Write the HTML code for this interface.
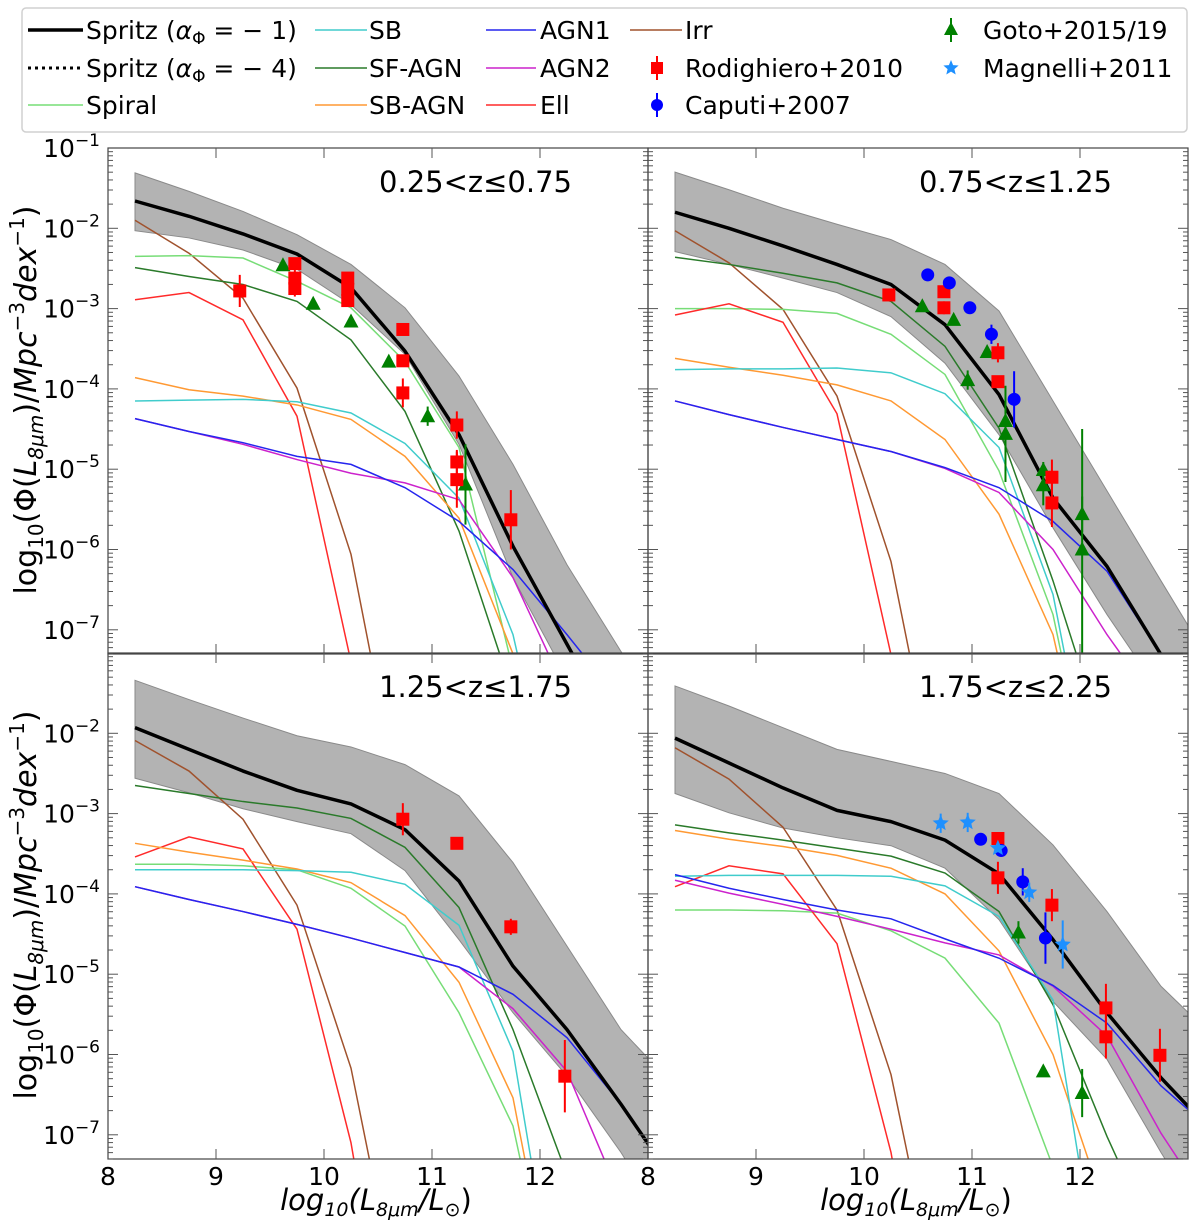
<!DOCTYPE html>
<html><head><meta charset="utf-8">
<style>
html,body{margin:0;padding:0;background:#fff;overflow:hidden;width:1200px;height:1228px;}
svg{display:block;font-family:"DejaVu Sans","Liberation Sans",sans-serif;}
</style></head>
<body>
<svg id="chart" width="1200" height="1228" viewBox="0 0 1200 1228" xmlns="http://www.w3.org/2000/svg" overflow="hidden">
  <g id="legend">
    <rect x="22" y="8" width="1165" height="124" rx="4" fill="#fff" stroke="#d0d0d0" stroke-width="1.5"/>
    <g>
      <line x1="28" y1="30" x2="83" y2="30" stroke="#000" stroke-width="3.5"/>
      <text x="86" y="39" font-size="25">Spritz (<tspan font-style="italic">α</tspan><tspan font-size="17" dy="5">Φ</tspan><tspan dy="-5"> = − 1)</tspan></text>
    </g>
    <g>
      <line x1="28" y1="68" x2="83" y2="68" stroke="#000" stroke-width="3" stroke-dasharray="3,4"/>
      <text x="86" y="77" font-size="25">Spritz (<tspan font-style="italic">α</tspan><tspan font-size="17" dy="5">Φ</tspan><tspan dy="-5"> = − 4)</tspan></text>
    </g>
    <g>
      <line x1="28" y1="105" x2="83" y2="105" stroke="#77dd77" stroke-width="1.5"/>
      <text x="86" y="114" font-size="25">Spiral</text>
    </g>
    <g>
      <line x1="315" y1="30" x2="367" y2="30" stroke="#40cccc" stroke-width="1.5"/>
      <text x="369" y="39" font-size="25">SB</text>
    </g>
    <g>
      <line x1="315" y1="68" x2="367" y2="68" stroke="#2a7a2a" stroke-width="1.5"/>
      <text x="369" y="77" font-size="25">SF-AGN</text>
    </g>
    <g>
      <line x1="315" y1="105" x2="367" y2="105" stroke="#ff9933" stroke-width="1.5"/>
      <text x="369" y="114" font-size="25">SB-AGN</text>
    </g>
    <g>
      <line x1="486" y1="30" x2="536" y2="30" stroke="#2525ee" stroke-width="1.5"/>
      <text x="540" y="39" font-size="25">AGN1</text>
    </g>
    <g>
      <line x1="486" y1="68" x2="536" y2="68" stroke="#cc22cc" stroke-width="1.5"/>
      <text x="540" y="77" font-size="25">AGN2</text>
    </g>
    <g>
      <line x1="486" y1="105" x2="536" y2="105" stroke="#ff2a2a" stroke-width="1.5"/>
      <text x="540" y="114" font-size="25">Ell</text>
    </g>
    <g>
      <line x1="630" y1="30" x2="682" y2="30" stroke="#a0522d" stroke-width="1.5"/>
      <text x="685" y="39" font-size="25">Irr</text>
    </g>
    <g>
      <line x1="657" y1="56" x2="657" y2="80" stroke="#ff0000" stroke-width="2"/>
      <rect x="651" y="62" width="12" height="12" fill="#ff0000"/>
      <text x="685" y="77" font-size="25">Rodighiero+2010</text>
    </g>
    <g>
      <line x1="657" y1="93" x2="657" y2="117" stroke="#0000ff" stroke-width="2"/>
      <circle cx="657" cy="105" r="6" fill="#0000ff"/>
      <text x="685" y="114" font-size="25">Caputi+2007</text>
    </g>
    <g>
      <line x1="951" y1="18" x2="951" y2="42" stroke="#008000" stroke-width="2"/>
      <polygon points="951,22 958,35 944,35" fill="#008000"/>
      <text x="983" y="39" font-size="25">Goto+2015/19</text>
    </g>
    <g>
      <polygon id="legstar" points="" fill="#1e90ff"/>
      <text x="983" y="77" font-size="25">Magnelli+2011</text>
    </g>
  </g>
  <g id="panels"></g>
  <g transform="translate(36,400) rotate(-90)">
    <text x="0" y="0" text-anchor="middle" font-size="30">log<tspan font-size="20" dy="7">10</tspan><tspan dy="-7">(Φ(</tspan><tspan font-style="italic">L</tspan><tspan font-size="20" dy="7" font-style="italic">8μm</tspan><tspan dy="-7">)/</tspan><tspan font-style="italic">Mpc</tspan><tspan font-size="20" dy="-12">−3</tspan><tspan dy="12" font-style="italic">dex</tspan><tspan font-size="20" dy="-12">−1</tspan><tspan dy="12">)</tspan></text>
  </g>
  <g transform="translate(36,905) rotate(-90)">
    <text x="0" y="0" text-anchor="middle" font-size="30">log<tspan font-size="20" dy="7">10</tspan><tspan dy="-7">(Φ(</tspan><tspan font-style="italic">L</tspan><tspan font-size="20" dy="7" font-style="italic">8μm</tspan><tspan dy="-7">)/</tspan><tspan font-style="italic">Mpc</tspan><tspan font-size="20" dy="-12">−3</tspan><tspan dy="12" font-style="italic">dex</tspan><tspan font-size="20" dy="-12">−1</tspan><tspan dy="12">)</tspan></text>
  </g>
  <text x="376" y="1210" text-anchor="middle" font-size="29" font-style="italic">log<tspan font-size="19" dy="6">10</tspan><tspan dy="-6">(L</tspan><tspan font-size="19" dy="6">8μm</tspan><tspan dy="-6">/L</tspan><tspan font-size="19" dy="6" font-style="normal">⊙</tspan><tspan dy="-6" font-style="normal">)</tspan></text>
  <text x="916" y="1210" text-anchor="middle" font-size="29" font-style="italic">log<tspan font-size="19" dy="6">10</tspan><tspan dy="-6">(L</tspan><tspan font-size="19" dy="6">8μm</tspan><tspan dy="-6">/L</tspan><tspan font-size="19" dy="6" font-style="normal">⊙</tspan><tspan dy="-6" font-style="normal">)</tspan></text>
</svg>
<script>
// ---- data (log10 Phi) ----
const xBins = [8.25, 8.75, 9.25, 9.75, 10.25, 10.75, 11.25, 11.75, 12.25, 12.75, 13.25];
const xTicks = [8, 9, 10, 11, 12];
const yTicks = [-1, -2, -3, -4, -5, -6, -7];
const panelTitles = ["0.25<z\u22640.75", "0.75<z\u22641.25", "1.25<z\u22641.75", "1.75<z\u22642.25"];

// panel 1: 0.25<z<=0.75
const p1Spritz = [-1.66,-1.85,-2.07,-2.32,-2.74,-3.53,-4.57,-5.96,-7.18,-8.4,-9.5];
const p1Up     = [-1.31,-1.54,-1.79,-2.08,-2.45,-2.99,-3.84,-4.94,-6.19,-7.27,-8.3];
const p1Lo     = [-2.03,-2.12,-2.27,-2.51,-2.95,-3.57,-4.69,-6.35,-7.6,-8.8,-10];
const p1Irr    = [-1.90,-2.31,-2.87,-3.99,-6.06,-9.5,-11,-11,-11,-11,-11];
const p1Spiral = [-2.35,-2.34,-2.37,-2.66,-2.99,-3.66,-4.73,-7.5,-10,-11,-11];
const p1SfAgn  = [-2.49,-2.60,-2.70,-2.91,-3.39,-4.28,-5.77,-7.8,-10,-11,-11];
const p1Ell    = [-2.89,-2.80,-3.14,-4.34,-7.4,-11,-11,-11,-11,-11,-11];
const p1SbAgn  = [-3.86,-4.01,-4.09,-4.20,-4.38,-4.84,-5.61,-7.3,-10,-11,-11];
const p1Sb     = [-4.15,-4.14,-4.13,-4.16,-4.30,-4.68,-5.36,-7.06,-10,-11,-11];
const p1Agn1   = [-4.37,-4.53,-4.67,-4.84,-4.94,-5.23,-5.65,-6.25,-7.06,-7.9,-9];
const p1Agn2   = [-4.37,-4.53,-4.69,-4.88,-5.05,-5.17,-5.38,-6.35,-7.8,-9,-10];
const p1RodX = [9.22, 9.73, 9.73, 9.73, 10.22, 10.22, 10.22, 10.73, 10.73, 10.73, 11.23, 11.23, 11.23, 11.73];
const p1RodY = [-2.78,-2.44,-2.62,-2.75,-2.62,-2.76,-2.9,-3.26,-3.65,-4.05,-4.45,-4.91,-5.13,-5.63];
const p1RodE = [0.2,0.05,0.1,0.1,0.05,0.05,0.05,0.02,0.02,0.18,0.17,0.15,0.35,0.37];
const p1GotoX = [9.62, 9.90, 10.25, 10.60, 10.96, 11.31];
const p1GotoY = [-2.46,-2.94,-3.16,-3.66,-4.34,-5.19];
const p1GotoE = [0.02,0.02,0.02,0.02,0.12,0.5];

// panel 2: 0.75<z<=1.25
const p2Spritz = [-1.80,-2.00,-2.22,-2.45,-2.70,-3.20,-4.07,-5.36,-6.21,-7.31,-8.4];
const p2Up     = [-1.30,-1.52,-1.75,-1.95,-2.14,-2.45,-3.03,-4.15,-5.27,-6.39,-7.5];
const p2Lo     = [-2.29,-2.45,-2.62,-2.80,-3.10,-3.68,-4.57,-5.73,-6.81,-7.8,-9];
const p2Irr    = [-2.03,-2.43,-3.01,-4.09,-6.15,-9.5,-11,-11,-11,-11,-11];
const p2Spiral = [-3.00,-3.00,-3.01,-3.06,-3.32,-3.82,-5.02,-6.81,-10,-11,-11];
const p2SfAgn  = [-2.36,-2.45,-2.56,-2.68,-2.91,-3.47,-4.49,-6.39,-8.5,-11,-11];
const p2Ell    = [-3.08,-2.94,-3.17,-4.31,-7.31,-11,-11,-11,-11,-11,-11];
const p2SbAgn  = [-3.62,-3.73,-3.83,-3.95,-4.15,-4.63,-5.56,-7.06,-10,-11,-11];
const p2Sb     = [-3.76,-3.75,-3.75,-3.74,-3.80,-4.06,-4.73,-6.56,-10,-11,-11];
const p2Agn1   = [-4.15,-4.32,-4.48,-4.63,-4.78,-4.98,-5.23,-5.65,-6.27,-7.31,-8.4];
const p2Agn2   = [-4.15,-4.32,-4.48,-4.63,-4.78,-4.99,-5.29,-6.00,-7.06,-8.0,-9];
const p2RodX = [10.23, 10.74, 10.74, 11.24, 11.24, 11.74, 11.74];
const p2RodY = [-2.83,-2.79,-2.99,-3.55,-3.91,-5.10,-5.42];
const p2RodE = [0.03,0.06,0.08,0.12,0.06,0.22,0.3];
const p2CapX = [10.59, 10.79, 10.98, 11.18, 11.39];
const p2CapY = [-2.58,-2.68,-2.99,-3.32,-4.13];
const p2CapE = [0.02,0.02,0.06,0.12,0.35];
const p2GotoX = [10.54, 10.83, 10.96, 11.14, 11.31, 11.31, 11.66, 11.66, 12.02, 12.02];
const p2GotoY = [-2.97,-3.14,-3.89,-3.54,-4.40,-4.56,-5.01,-5.20,-5.56,-6.0];
const p2GotoE = [0.02,0.02,0.12,0.02,0.15,0.6,0.1,0.25,0.22,1.5];

// panel 3: 1.25<z<=1.75
const p3Spritz = [-1.93,-2.20,-2.47,-2.71,-2.88,-3.20,-3.84,-4.90,-5.69,-6.62,-7.6];
const p3Up     = [-1.34,-1.58,-1.81,-2.03,-2.17,-2.39,-2.78,-3.61,-4.65,-5.69,-6.4];
const p3Lo     = [-2.56,-2.74,-2.94,-3.10,-3.25,-3.71,-4.57,-5.48,-6.27,-7.22,-8.3];
const p3Irr    = [-2.09,-2.47,-3.07,-4.14,-6.17,-9.5,-11,-11,-11,-11,-11];
const p3Spiral = [-3.63,-3.63,-3.65,-3.70,-3.93,-4.40,-5.48,-6.89,-10,-11,-11];
const p3SfAgn  = [-2.65,-2.75,-2.85,-2.93,-3.06,-3.42,-4.17,-5.69,-7.5,-10,-11];
const p3Ell    = [-3.54,-3.29,-3.44,-4.44,-7.10,-11,-11,-11,-11,-11,-11];
const p3SbAgn  = [-3.37,-3.48,-3.58,-3.69,-3.86,-4.27,-5.10,-6.54,-10,-11,-11];
const p3Sb     = [-3.70,-3.70,-3.70,-3.71,-3.73,-3.88,-4.39,-5.96,-10,-11,-11];
const p3Agn1   = [-3.91,-4.07,-4.22,-4.38,-4.55,-4.73,-4.91,-5.25,-5.79,-6.62,-7.6];
const p3Agn2   = [-3.91,-4.07,-4.22,-4.38,-4.55,-4.73,-4.91,-5.43,-6.21,-7.8,-9];
const p3RodX = [10.73, 11.23, 11.73, 12.23];
const p3RodY = [-3.07,-3.37,-4.41,-6.27];
const p3RodE = [0.2,0.02,0.1,0.45];

// panel 4: 1.75<z<=2.25
const p4Spritz = [-2.06,-2.37,-2.68,-2.96,-3.10,-3.33,-3.75,-4.57,-5.48,-6.29,-7.0];
const p4Up     = [-1.41,-1.66,-1.93,-2.20,-2.35,-2.50,-2.75,-3.39,-4.22,-5.15,-5.8];
const p4Lo     = [-2.75,-2.99,-3.18,-3.30,-3.40,-3.68,-4.32,-5.34,-6.06,-7.22,-8.3];
const p4Irr    = [-2.18,-2.57,-3.17,-4.20,-6.25,-9.5,-11,-11,-11,-11,-11];
const p4Spiral = [-4.20,-4.20,-4.21,-4.24,-4.46,-4.80,-5.61,-7.4,-10,-11,-11];
const p4SfAgn  = [-3.14,-3.24,-3.33,-3.43,-3.53,-3.74,-4.22,-5.38,-7.02,-8.5,-10];
const p4Ell    = [-3.91,-3.65,-3.75,-4.62,-7.22,-11,-11,-11,-11,-11,-11];
const p4SbAgn  = [-3.21,-3.32,-3.41,-3.52,-3.68,-4.00,-4.71,-6.00,-8.0,-11,-11];
const p4Sb     = [-3.78,-3.77,-3.77,-3.77,-3.78,-3.90,-4.28,-5.32,-9.5,-11,-11];
const p4Agn1   = [-3.76,-3.93,-4.07,-4.20,-4.31,-4.56,-4.80,-5.14,-5.61,-6.39,-6.98];
const p4Agn2   = [-3.83,-3.99,-4.13,-4.28,-4.44,-4.61,-4.76,-5.15,-5.77,-6.98,-8.0];
const p4RodX = [11.24, 11.24, 11.74, 12.24, 12.24, 12.74];
const p4RodY = [-3.31,-3.80,-4.14,-5.42,-5.78,-6.01];
const p4RodE = [0.02,0.2,0.2,0.3,0.27,0.33];
const p4CapX = [11.08, 11.27, 11.47, 11.68];
const p4CapY = [-3.32,-3.46,-3.85,-4.55];
const p4CapE = [0.02,0.02,0.17,0.32];
const p4MagX = [10.71, 10.96, 11.24, 11.53, 11.84];
const p4MagY = [-3.12,-3.11,-3.43,-3.98,-4.63];
const p4MagE = [0.12,0.12,0.05,0.12,0.3];
const p4GotoX = [11.43, 11.66, 12.02];
const p4GotoY = [-4.48,-6.21,-6.48];
const p4GotoE = [0.14,0.02,0.3];

// ---- layout ----
const NS = "http://www.w3.org/2000/svg";
const PW = 540, PH = 506, DEC = 80.3;
const panelDefs = [
  {x0:108, y0:148, xmin:8, t:panelTitles[0], spritz:p1Spritz, up:p1Up, lo:p1Lo, irr:p1Irr, spiral:p1Spiral, sfagn:p1SfAgn, ell:p1Ell, sbagn:p1SbAgn, sb:p1Sb, agn1:p1Agn1, agn2:p1Agn2,
   rod:[p1RodX,p1RodY,p1RodE], goto:[p1GotoX,p1GotoY,p1GotoE], ylab:true, xlab:false},
  {x0:648, y0:148, xmin:8, t:panelTitles[1], spritz:p2Spritz, up:p2Up, lo:p2Lo, irr:p2Irr, spiral:p2Spiral, sfagn:p2SfAgn, ell:p2Ell, sbagn:p2SbAgn, sb:p2Sb, agn1:p2Agn1, agn2:p2Agn2,
   rod:[p2RodX,p2RodY,p2RodE], cap:[p2CapX,p2CapY,p2CapE], goto:[p2GotoX,p2GotoY,p2GotoE], ylab:false, xlab:false},
  {x0:108, y0:653, xmin:8, t:panelTitles[2], spritz:p3Spritz, up:p3Up, lo:p3Lo, irr:p3Irr, spiral:p3Spiral, sfagn:p3SfAgn, ell:p3Ell, sbagn:p3SbAgn, sb:p3Sb, agn1:p3Agn1, agn2:p3Agn2,
   rod:[p3RodX,p3RodY,p3RodE], ylab:true, xlab:true},
  {x0:648, y0:653, xmin:8, t:panelTitles[3], spritz:p4Spritz, up:p4Up, lo:p4Lo, irr:p4Irr, spiral:p4Spiral, sfagn:p4SfAgn, ell:p4Ell, sbagn:p4SbAgn, sb:p4Sb, agn1:p4Agn1, agn2:p4Agn2,
   rod:[p4RodX,p4RodY,p4RodE], cap:[p4CapX,p4CapY,p4CapE], mag:[p4MagX,p4MagY,p4MagE], goto:[p4GotoX,p4GotoY,p4GotoE], ylab:false, xlab:true}
];
const lineStyles = [
  ["irr","#a0522d","irr-line"],["spiral","#77dd77","spiral-line"],["sfagn","#2a7a2a","sf-agn-line"],
  ["ell","#ff2a2a","ell-line"],["sbagn","#ff9933","sb-agn-line"],["sb","#40cccc","sb-line"],
  ["agn2","#cc22cc","agn2-line"],["agn1","#2525ee","agn1-line"]
];
function el(tag, attrs, parent){
  const e = document.createElementNS(NS, tag);
  for (const k in attrs) e.setAttribute(k, attrs[k]);
  if (parent) parent.appendChild(e);
  return e;
}
function starPts(cx, cy, R){
  const r = R*0.45; let s = [];
  for (let i=0;i<10;i++){
    const a = -Math.PI/2 + i*Math.PI/5, rr = i%2 ? r : R;
    s.push((cx+rr*Math.cos(a)).toFixed(1)+","+(cy+rr*Math.sin(a)).toFixed(1));
  }
  return s.join(" ");
}
document.getElementById("legstar").setAttribute("points", starPts(951, 68, 8));

const root = document.getElementById("panels");
panelDefs.forEach((P, pi) => {
  const sx = v => P.x0 + (v - P.xmin) * (PW/5);
  const sy = v => P.y0 + (-1 - v) * DEC;
  const g = el("g", {}, root);
  
  
  const cid = "clip" + pi;
  const cp = el("clipPath", {id: cid}, g);
  el("rect", {x:P.x0, y:P.y0, width:PW, height:PH}, cp);
  const inner = el("g", {"clip-path": "url(#"+cid+")"}, g);

  let pts = xBins.map((x,i)=> sx(x)+","+sy(P.up[i]));
  pts = pts.concat(xBins.slice().reverse().map((x,j)=>{const i = xBins.length-1-j; return sx(x)+","+sy(P.lo[i]);}));
  const band = el("polygon", {points: pts.join(" "), fill:"#b3b3b3", stroke:"#8a8a8a", "stroke-width":1}, inner);
  
  

  lineStyles.forEach(([key,col,name]) => {
    const arr = P[key];
    const pl = el("polyline", {points: xBins.map((x,i)=>sx(x)+","+sy(arr[i])).join(" "), fill:"none", stroke:col, "stroke-width":1.5}, inner);
    
    
  });
  const sp = el("polyline", {points: xBins.map((x,i)=>sx(x)+","+sy(P.spritz[i])).join(" "), fill:"none", stroke:"#000", "stroke-width":3.5, "stroke-linejoin":"round"}, inner);
  
  

  function errbar(x,y,e,col){
    el("line", {x1:sx(x), x2:sx(x), y1:sy(y+e), y2:sy(y-e), stroke:col, "stroke-width":2}, inner);
  }
  if (P.goto){ const [X,Y,E]=P.goto; X.forEach((x,i)=>{ errbar(x,Y[i],E[i],"#008000");
    const cx=sx(x), cy=sy(Y[i]);
    const m = el("polygon", {points:`${cx},${cy-8} ${cx+7.5},${cy+6} ${cx-7.5},${cy+6}`, fill:"#008000"}, inner);
    
     }); }
  if (P.rod){ const [X,Y,E]=P.rod; X.forEach((x,i)=>{ errbar(x,Y[i],E[i],"#ff0000");
    const m = el("rect", {x:sx(x)-6.5, y:sy(Y[i])-6.5, width:13, height:13, fill:"#ff0000"}, inner);
    
     }); }
  if (P.cap){ const [X,Y,E]=P.cap; X.forEach((x,i)=>{ errbar(x,Y[i],E[i],"#0000ff");
    const m = el("circle", {cx:sx(x), cy:sy(Y[i]), r:6.5, fill:"#0000ff"}, inner);
    
     }); }
  if (P.mag){ const [X,Y,E]=P.mag; X.forEach((x,i)=>{ errbar(x,Y[i],E[i],"#1e90ff");
    const m = el("polygon", {points: starPts(sx(x), sy(Y[i]), 8.5), fill:"#1e90ff"}, inner);
    
     }); }

  const fr = el("rect", {x:P.x0, y:P.y0, width:PW, height:PH, fill:"none", stroke:"#444", "stroke-width":1.2}, g);
  
  

  const ybot = -1 - PH/DEC;
  for (let d=-8; d<=-1; d++){
    for (let k=1;k<10;k++){
      const v = d + Math.log10(k);
      if (v > -1.0001 || v < ybot) continue;
      const y = sy(v), len = k===1 ? 10 : 5;
      el("line", {x1:P.x0, x2:P.x0+len, y1:y, y2:y, stroke:"#555", "stroke-width":1}, g);
      el("line", {x1:P.x0+PW, x2:P.x0+PW-len, y1:y, y2:y, stroke:"#555", "stroke-width":1}, g);
    }
  }
  xTicks.forEach(t => {
    const x = sx(t);
    if (t>P.xmin){
      el("line", {x1:x, x2:x, y1:P.y0, y2:P.y0+10, stroke:"#555", "stroke-width":1}, g);
      el("line", {x1:x, x2:x, y1:P.y0+PH, y2:P.y0+PH-10, stroke:"#555", "stroke-width":1}, g);
    }
    if (P.xlab){
      const tl = el("text", {x:x, y:P.y0+PH+26, "text-anchor":"middle", "font-size":25}, g);
      tl.textContent = String(t);
      
      
    }
  });
  if (P.ylab){
    yTicks.forEach(t => {
      if (pi>=2 && t===-1) return;
      const tl = el("text", {x:P.x0-8, y:sy(t)+9, "text-anchor":"end", "font-size":25}, g);
      
      
      const a = el("tspan", {}, tl); a.textContent = "10";
      const b = el("tspan", {dy:-11, "font-size":17}, tl); b.textContent = "\u2212" + (-t);
    });
  }
  const tt = el("text", {x:P.x0+464, y:P.y0+44, "text-anchor":"end", "font-size":29}, g);
  tt.textContent = P.t;
  
  
});
</script>
</body></html>
